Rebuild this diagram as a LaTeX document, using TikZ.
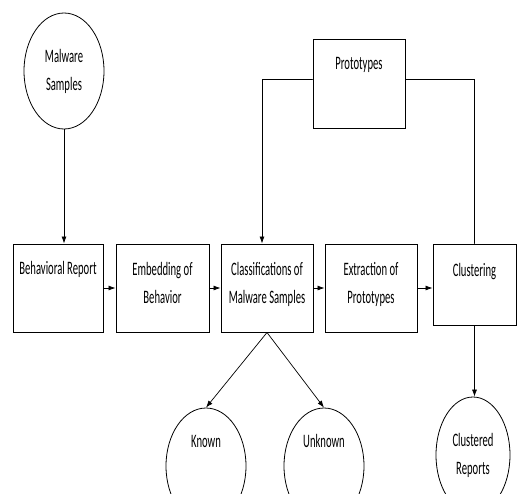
\documentclass[tikz,border=0pt]{standalone}
\usepackage{fontspec}
\setmainfont[FakeStretch=0.56]{Carlito}
\usetikzlibrary{arrows.meta,shapes.geometric}

\begin{document}
\begin{tikzpicture}[x=1pt,y=-1pt,line cap=round,
    every node/.style={font=\fontsize{19}{28}\selectfont,align=center,inner sep=0pt},
    stage/.style={draw,line width=1pt,minimum width=92pt,minimum height=88pt,
      text height=14pt,text depth=41pt},
    twoline/.style={text height=44pt,text depth=14pt},
    blob/.style={draw,ellipse,line width=0.8pt,minimum width=80pt,minimum height=116pt},
    flow/.style={line width=0.7pt,-{Latex[length=7pt,width=5pt]}}]
  \useasboundingbox (0,0) rectangle (517,493);
  \node[blob] (ms) at (64,71) {Malware\\Samples};
  \node[stage,minimum width=90pt] (br) at (58,288) {Behavioral Report};
  \node[stage,twoline,minimum width=93pt] (emb) at (162.5,288) {Embedding of\\Behavior};
  \node[stage,twoline] (cls) at (267,288) {Classifications of\\Malware Samples};
  \node[stage,twoline] (ext) at (371,288) {Extraction of\\Prototypes};
  \node[stage,minimum width=83pt,minimum height=81pt,text depth=31pt] (clu) at (474.5,284.5) {Clustering};
  \node[stage,minimum height=89pt,text depth=43pt] (proto) at (359,83.5) {Prototypes};
  \node[blob,text depth=50pt] (kn) at (206,466) {Known};
  \node[blob,text depth=50pt] (unk) at (324,466) {Unknown};
  \node[blob,minimum width=74pt] (cr) at (473,455) {Clustered\\Reports};

  \draw[flow] (ms) -- (ms |- br.north);
  \draw[flow] (br) -- (emb);
  \draw[flow] (emb) -- (cls);
  \draw[flow] (cls) -- (ext);
  \draw[flow] (ext) -- (ext -| clu.west);
  \draw[flow] ([yshift=4.5pt]proto.west) -| ([xshift=-5pt]cls.north);
  \draw[line width=0.7pt] ([yshift=4.5pt]proto.east) -| (clu.north);
  \draw[flow] (cls.south) -- (kn.north);
  \draw[flow] (cls.south) -- (unk.north);
  \draw[flow] (clu.south) -- (clu.south |- cr.north);
\end{tikzpicture}
\end{document}
